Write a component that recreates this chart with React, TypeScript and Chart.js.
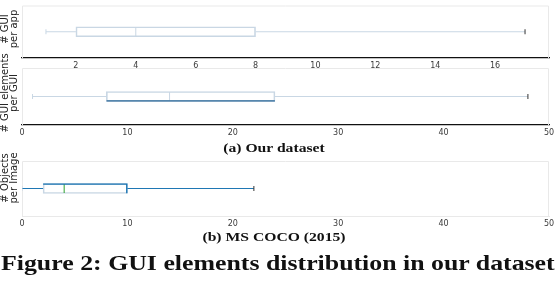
import React, { useEffect, useRef } from "react";
import { Chart, registerables } from "chart.js";

Chart.register(...registerables);

// [min, q1, median, q3, max]
const GUI_PER_APP = [1, 2, 4, 8, 17];
const ELEMENTS_PER_GUI = [1, 8, 14, 24, 48];
const OBJECTS_PER_IMAGE = [0, 2, 4, 10, 22];

const APP_TICKS = [2, 4, 6, 8, 10, 12, 14, 16];
const COUNT_TICKS = [0, 10, 20, 30, 40, 50];

const APP_RANGE = [0.2, 17.8];
const COUNT_RANGE = [0, 50];

const Y_LABELS = ["# GUI\nper app", "# GUI elements\nper GUI", "# Objects\nper Image"];
const TITLES = ["(a) Our dataset", "(b) MS COCO (2015)"];
const CAPTION = "Figure 2: GUI elements distribution in our dataset";

const LIGHT = "#c9d7e4";
const DARK_BLUE = "#2f6b9a";
const BLUE = "#1f77b4";
const GREEN = "#2ca02c";
const CAP_DARK = "#333333";
const FRAME = "#e9e9e9";

type Style = {
  whisker: string;
  box: string;
  median: string;
  minCap: string;
  maxCap: string;
  overlay?: { color: string; width: any };
  axisColor: string;
  axisWidth: number;
};

const framePlugin = {
  id: "frame",
  beforeDatasetsDraw(chart: any) {
    const { ctx, chartArea } = chart;
    const { left, right, top, bottom } = chartArea;
    ctx.save();
    ctx.strokeStyle = FRAME;
    ctx.lineWidth = 1;
    ctx.beginPath();
    ctx.moveTo(left + 0.5, bottom);
    ctx.lineTo(left + 0.5, top + 0.5);
    ctx.lineTo(right - 0.5, top + 0.5);
    ctx.lineTo(right - 0.5, bottom);
    ctx.stroke();
    ctx.restore();
  },
};

function BoxPanel(props: {
  stats: number[];
  ticks: number[];
  range: number[];
  style: Style;
  top: number;
  height: number;
  padTop: number;
}) {
  const ref = useRef<HTMLCanvasElement>(null);
  useEffect(() => {
    const [mn, q1, med, q3, mx] = props.stats;
    const s = props.style;
    const datasets: any[] = [
      {
        type: "bar",
        indexAxis: "y",
        grouped: false,
        data: [{ x: [q1, q3], y: 0 }],
        barThickness: 10,
        backgroundColor: "rgba(255,255,255,0)",
        borderColor: s.box,
        borderWidth: 1,
        borderSkipped: false,
        order: 10,
      },
      {
        type: "line",
        data: [
          { x: mn, y: 0 },
          { x: q1, y: 0 },
        ],
        borderColor: s.whisker,
        borderWidth: 1,
        pointRadius: 0,
        order: 5,
      },
      {
        type: "line",
        data: [
          { x: q3, y: 0 },
          { x: mx, y: 0 },
        ],
        borderColor: s.whisker,
        borderWidth: 1,
        pointRadius: 0,
        order: 5,
      },
      {
        type: "scatter",
        data: [{ x: med, y: 0 }],
        pointStyle: "line",
        rotation: 90,
        pointRadius: 4.5,
        borderColor: s.median,
        pointBorderColor: s.median,
        pointBorderWidth: 1,
        order: 1,
      },
      {
        type: "scatter",
        data: [{ x: mn, y: 0 }],
        pointStyle: "line",
        rotation: 90,
        pointRadius: 2.5,
        borderColor: s.minCap,
        pointBorderColor: s.minCap,
        pointBorderWidth: 1,
        order: 1,
      },
      {
        type: "scatter",
        data: [{ x: mx, y: 0 }],
        pointStyle: "line",
        rotation: 90,
        pointRadius: 2.5,
        borderColor: s.maxCap,
        pointBorderColor: s.maxCap,
        pointBorderWidth: 1,
        order: 1,
      },
    ];
    if (s.overlay) {
      datasets.push({
        type: "bar",
        indexAxis: "y",
        grouped: false,
        data: [{ x: [q1, q3], y: 0 }],
        barThickness: 10,
        backgroundColor: "rgba(255,255,255,0)",
        borderColor: s.overlay.color,
        borderWidth: s.overlay.width,
        borderSkipped: false,
        order: 0,
      });
    }
    const chart = new Chart(ref.current as HTMLCanvasElement, {
      type: "bar",
      data: { datasets },
      plugins: [framePlugin],
      options: {
        animation: false,
        responsive: false,
        maintainAspectRatio: false,
        indexAxis: "y",
        events: [],
        layout: { padding: { top: props.padTop, left: 22, right: 11, bottom: 0 } },
        plugins: { legend: { display: false }, tooltip: { enabled: false } },
        scales: {
          x: {
            type: "linear",
            offset: false,
            min: props.range[0],
            max: props.range[1],
            grid: { display: false, drawTicks: false, offset: false },
            border: { display: true, color: s.axisColor, width: s.axisWidth },
            ticks: {
              padding: 3,
              color: "#3a3a3a",
              font: { family: "DejaVu Sans", size: 8 },
              maxRotation: 0,
              autoSkip: false,
            },
            afterBuildTicks: (axis: any) => {
              axis.ticks = props.ticks.map((v) => ({ value: v }));
            },
            afterFit: (axis: any) => {
              axis.height = 14;
            },
          },
          y: {
            type: "linear",
            offset: false,
            min: -1,
            max: 1,
            display: false,
          },
        },
      } as any,
    });
    return () => chart.destroy();
  }, []);
  return (
    <canvas
      ref={ref}
      width={560}
      height={props.height}
      style={{ position: "absolute", left: 0, top: props.top, width: 560, height: props.height }}
    />
  );
}

function YLabel(props: { text: string; cx: number; cy: number }) {
  const w = 140;
  const h = 18;
  return (
    <div
      style={{
        position: "absolute",
        left: props.cx - w / 2,
        top: props.cy - h / 2,
        width: w,
        height: h,
        transform: "rotate(-90deg)",
        transformOrigin: "50% 50%",
        whiteSpace: "pre",
        textAlign: "center",
        fontFamily: "DejaVu Sans",
        fontSize: 10,
        lineHeight: "9px",
        color: "#222",
      }}
    >
      {props.text}
    </div>
  );
}

function Title(props: { text: string; top: number }) {
  return (
    <div
      style={{
        position: "absolute",
        left: 0,
        top: props.top,
        width: 548,
        textAlign: "center",
        fontFamily: "Liberation Serif",
        fontWeight: "bold",
        fontSize: 13.5,
        lineHeight: "13.5px",
        color: "#111",
        whiteSpace: "nowrap",
        transform: "scaleX(1.16)",
        transformOrigin: "274px 50%",
      }}
    >
      {props.text}
    </div>
  );
}

const styleA: Style = {
  whisker: LIGHT,
  box: LIGHT,
  median: LIGHT,
  minCap: LIGHT,
  maxCap: CAP_DARK,
  axisColor: "#111",
  axisWidth: 1.3,
};
const styleB: Style = {
  whisker: LIGHT,
  box: LIGHT,
  median: LIGHT,
  minCap: LIGHT,
  maxCap: CAP_DARK,
  overlay: { color: DARK_BLUE, width: { top: 0, right: 0, bottom: 1, left: 0 } },
  axisColor: "#111",
  axisWidth: 1.3,
};
const styleC: Style = {
  whisker: BLUE,
  box: LIGHT,
  median: GREEN,
  minCap: LIGHT,
  maxCap: CAP_DARK,
  overlay: { color: BLUE, width: { top: 1, right: 1, bottom: 0, left: 0 } },
  axisColor: FRAME,
  axisWidth: 1,
};

export default function App() {
  return (
    <div
      style={{
        position: "fixed",
        left: 0,
        top: 0,
        width: 560,
        height: 284,
        background: "#fff",
        overflow: "hidden",
      }}
    >
      <BoxPanel stats={GUI_PER_APP} ticks={APP_TICKS} range={APP_RANGE} style={styleA} top={0} height={72} padTop={1} />
      <BoxPanel stats={ELEMENTS_PER_GUI} ticks={COUNT_TICKS} range={COUNT_RANGE} style={styleB} top={50} height={89} padTop={18} />
      <BoxPanel stats={OBJECTS_PER_IMAGE} ticks={COUNT_TICKS} range={COUNT_RANGE} style={styleC} top={150} height={80} padTop={11} />
      <YLabel text={Y_LABELS[0]} cx={8.5} cy={28.5} />
      <YLabel text={Y_LABELS[1]} cx={8.5} cy={93} />
      <YLabel text={Y_LABELS[2]} cx={8.5} cy={178} />
      <Title text={TITLES[0]} top={140.7} />
      <Title text={TITLES[1]} top={230.4} />
      <div
        style={{
          position: "absolute",
          left: 1,
          top: 253.1,
          fontFamily: "Liberation Serif",
          fontWeight: "bold",
          fontSize: 21,
          lineHeight: "21px",
          color: "#111",
          whiteSpace: "nowrap",
          transform: "scaleX(1.23)",
          transformOrigin: "0 50%",
        }}
      >
        {CAPTION}
      </div>
    </div>
  );
}
